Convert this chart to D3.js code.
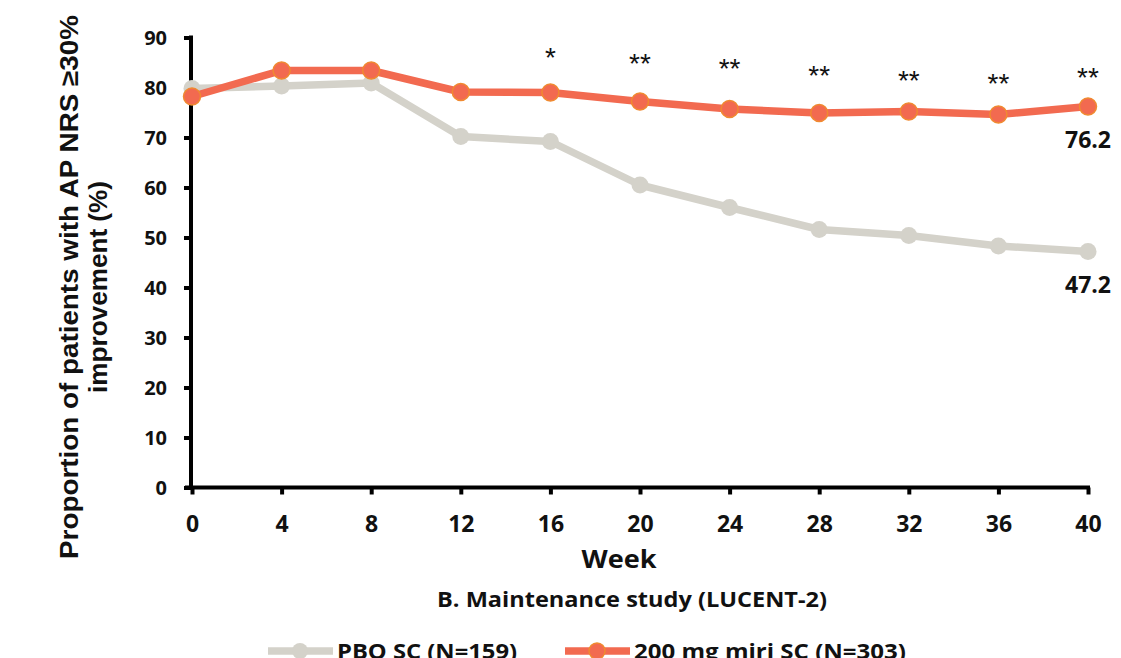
<!DOCTYPE html>
<html>
<head>
<meta charset="utf-8">
<script src="https://cdn.jsdelivr.net/npm/d3@7"></script>
<style>
  body { margin: 0; background: #fff; }
  svg { display: block; }
  text { font-family: "Liberation Sans", Arial, sans-serif; font-weight: bold; fill: #111; }
  .cal { font-family: "Open Sans", sans-serif; }
</style>
</head>
<body>
<div id="chart"></div>
<script>
// values
const weeks = [0, 4, 8, 12, 16, 20, 24, 28, 32, 36, 40];
const placebo = [79.8, 80.3, 80.9, 70.2, 69.2, 60.5, 56.0, 51.6, 50.4, 48.3, 47.2];
const miri = [78.2, 83.4, 83.4, 79.1, 79.0, 77.2, 75.7, 74.9, 75.2, 74.6, 76.2];
const yTicks = [0, 10, 20, 30, 40, 50, 60, 70, 80, 90];
const stars = [
  { week: 16, label: '*', level: 86.9 },
  { week: 20, label: '**', level: 85.7 },
  { week: 24, label: '**', level: 84.7 },
  { week: 28, label: '**', level: 83.3 },
  { week: 32, label: '**', level: 82.4 },
  { week: 36, label: '**', level: 81.7 },
  { week: 40, label: '**', level: 82.9 }
];
const seriesNames = ['PBO SC (N=159)', '200 mg miri SC (N=303)'];

const width = 1121;
const height = 658;
const grey = '#d4d2ca';
const orange = '#f26a50';

const svg = d3.select('#chart').append('svg')
  .attr('width', width).attr('height', height);

const x = d3.scaleLinear().domain([0, 40]).range([192, 1088]);
const y = d3.scaleLinear().domain([0, 90]).range([487.5, 37.5]);

// axes
const yAxis = svg.append('g')
  .attr('transform', 'translate(191,0)')
  .call(d3.axisLeft(y).tickValues(yTicks).tickSize(7).tickSizeOuter(0));
yAxis.select('.domain').attr('stroke', '#000').attr('stroke-width', 4)
  .attr('d', `M0,${y(90) - 2}V${y(0) + 2}`);
yAxis.selectAll('.tick line').attr('stroke', '#000').attr('stroke-width', 4);
yAxis.selectAll('.tick text')
  .attr('x', -24).attr('dy', '0.36em')
  .style('font-size', '20px').style('font-family', '"Open Sans", sans-serif')
  .style('font-weight', 'bold').attr('fill', '#111');

const xAxis = svg.append('g')
  .attr('transform', `translate(0,${y(0)})`)
  .call(d3.axisBottom(x).tickValues(weeks).tickSize(7).tickSizeOuter(0));
xAxis.select('.domain').attr('stroke', '#000').attr('stroke-width', 4)
  .attr('d', `M185,0H1090`);
xAxis.selectAll('.tick line').attr('stroke', '#000').attr('stroke-width', 4);
xAxis.selectAll('.tick text')
  .attr('y', 44).attr('dy', 0)
  .style('font-size', '23px').style('font-family', '"Open Sans", sans-serif')
  .style('font-weight', 'bold').attr('fill', '#111');

// lines
const line = d3.line().x((d, i) => x(weeks[i])).y(d => y(d));

function drawSeries(values, color, stroke) {
  svg.append('path').datum(values)
    .attr('d', line).attr('fill', 'none')
    .attr('stroke', color).attr('stroke-width', 7.5)
    .attr('stroke-linejoin', 'round');
  svg.selectAll(null).data(values).enter().append('circle')
    .attr('cx', (d, i) => x(weeks[i]))
    .attr('cy', d => y(d))
    .attr('r', 8.5)
    .attr('fill', color)
    .attr('stroke', stroke).attr('stroke-width', stroke === 'none' ? 0 : 1.5);
}
drawSeries(placebo, grey, 'none');
drawSeries(miri, orange, '#f08a30');

// significance stars
svg.selectAll(null).data(stars).enter().append('text')
  .attr('x', d => x(d.week))
  .attr('y', d => y(d.level) + 14)
  .attr('text-anchor', 'middle')
  .style('font-size', '28px')
  .style('font-weight', 'normal')
  .text(d => d.label);

// end labels
svg.append('text').attr('x', x(40)).attr('y', y(miri[10]) + 41)
  .attr('text-anchor', 'middle').attr('class', 'cal').style('font-size', '23px')
  .text(miri[10].toFixed(1));
svg.append('text').attr('x', x(40)).attr('y', y(placebo[10]) + 41)
  .attr('text-anchor', 'middle').attr('class', 'cal').style('font-size', '23px')
  .text(placebo[10].toFixed(1));

// axis titles
const yTitle = svg.append('text')
  .attr('transform', 'translate(0,287) rotate(-90)')
  .attr('text-anchor', 'middle')
  .style('font-size', '25px');
yTitle.append('tspan').attr('x', 0).attr('y', 78)
  .attr('textLength', 544).attr('lengthAdjust', 'spacingAndGlyphs')
  .text('Proportion of patients with AP NRS ≥30%');
yTitle.append('tspan').attr('x', 0).attr('y', 107)
  .attr('textLength', 212).attr('lengthAdjust', 'spacingAndGlyphs')
  .text('improvement (%)');

svg.append('text').attr('x', 619).attr('y', 568)
  .attr('text-anchor', 'middle').attr('class', 'cal').style('font-size', '25px')
  .attr('textLength', 75).attr('lengthAdjust', 'spacingAndGlyphs')
  .text('Week');

svg.append('text').attr('x', 632).attr('y', 607)
  .attr('text-anchor', 'middle').attr('class', 'cal').style('font-size', '21px')
  .attr('textLength', 390).attr('lengthAdjust', 'spacingAndGlyphs')
  .text('B. Maintenance study (LUCENT-2)');

// legend
const legend = [
  { name: seriesNames[0], color: grey, stroke: 'none', x0: 268, len: 180 },
  { name: seriesNames[1], color: orange, stroke: '#f08a30', x0: 565, len: 272 }
];
legend.forEach(l => {
  svg.append('line').attr('x1', l.x0).attr('x2', l.x0 + 65)
    .attr('y1', 651).attr('y2', 651)
    .attr('stroke', l.color).attr('stroke-width', 7.5);
  svg.append('circle').attr('cx', l.x0 + 32).attr('cy', 651).attr('r', 8)
    .attr('fill', l.color).attr('stroke', l.stroke)
    .attr('stroke-width', l.stroke === 'none' ? 0 : 1.5);
  svg.append('text').attr('x', l.x0 + 69).attr('y', 659)
    .attr('class', 'cal').style('font-size', '21px')
    .attr('textLength', l.len).attr('lengthAdjust', 'spacingAndGlyphs')
    .text(l.name);
});
</script>
</body>
</html>
